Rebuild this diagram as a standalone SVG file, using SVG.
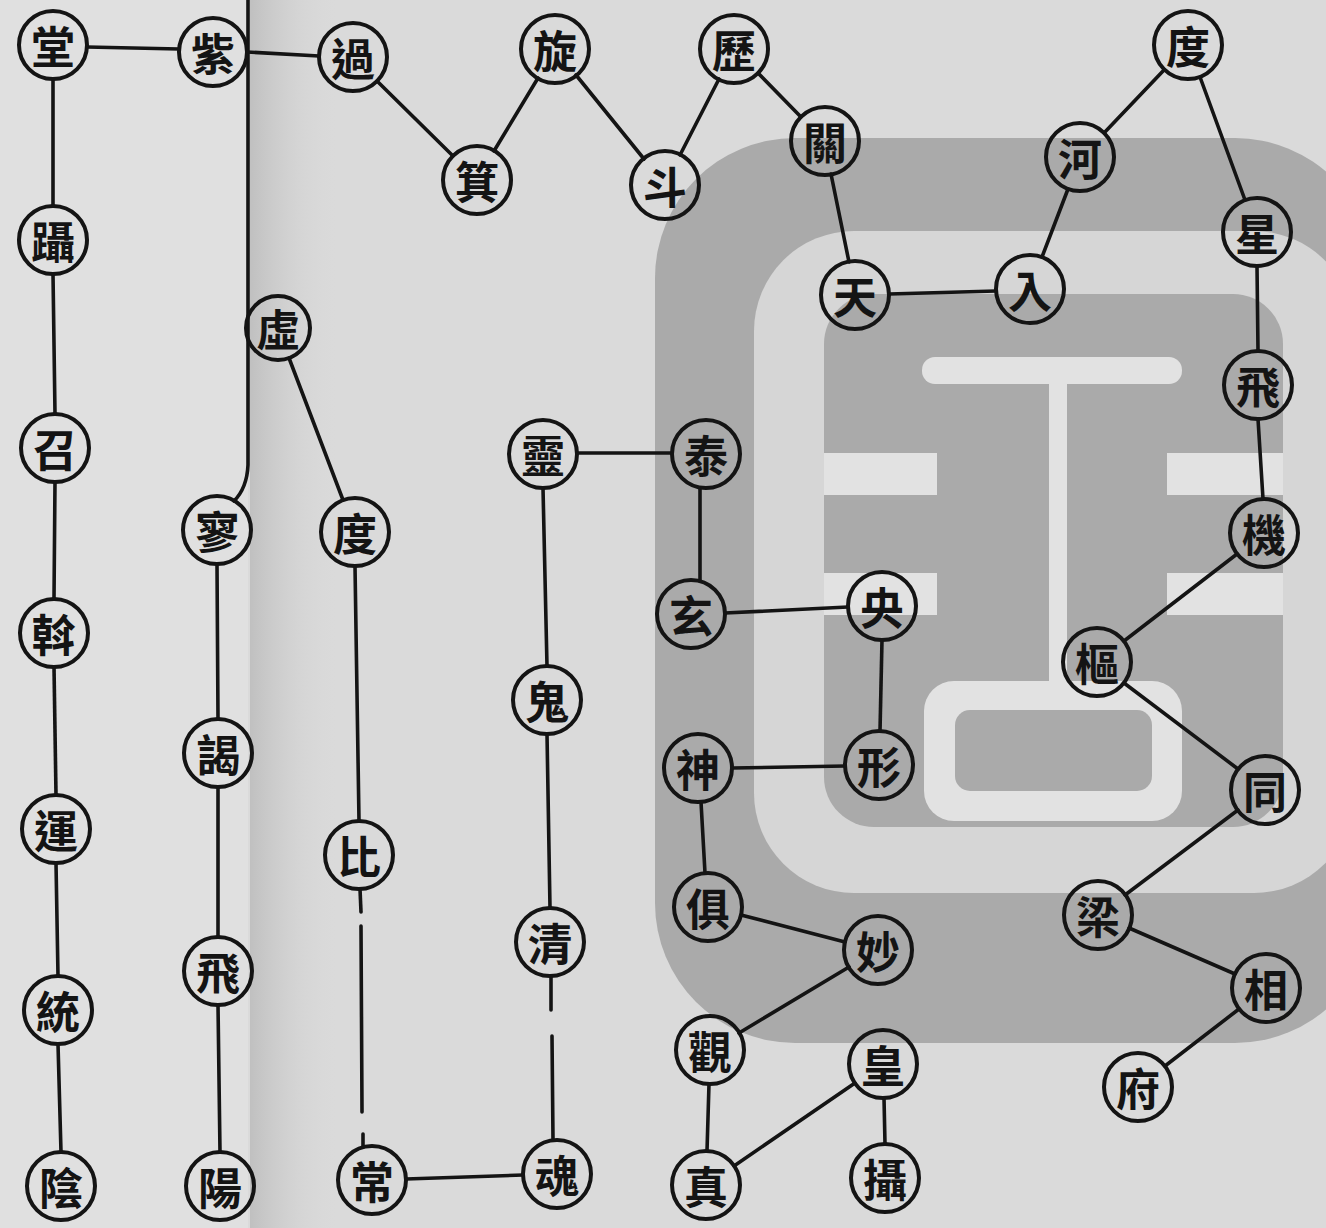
<svg xmlns="http://www.w3.org/2000/svg" width="1326" height="1228" viewBox="0 0 1326 1228">
<defs>
<style>
.n circle{fill:none;stroke:#141414;stroke-width:4}
.n text{font-family:"Noto Sans CJK TC","Noto Sans CJK SC",sans-serif;font-size:44px;font-weight:700;fill:#141414;text-anchor:middle;dominant-baseline:central}
.c line,.c path{stroke:#141414;stroke-width:3.6;fill:none;stroke-linecap:round}
.wm{fill:#aaaaaa}
.wl{fill:#d6d6d6}
.wb{fill:#e2e2e2}
</style>
<linearGradient id="gut" x1="0" y1="0" x2="1" y2="0">
<stop offset="0" stop-color="#bdbdbd" stop-opacity="0.9"/>
<stop offset="1" stop-color="#dadada" stop-opacity="0"/>
</linearGradient>
</defs>
<g id="paper">
<rect x="0" y="0" width="1326" height="1228" fill="#dadada"/>
<rect x="0" y="0" width="248" height="1228" fill="#e0e0e0"/>
<rect x="250" y="0" width="90" height="1228" fill="url(#gut)"/>
</g>
<g id="watermark">
<rect class="wm" x="655" y="138" width="720" height="905" rx="140"/>
<rect class="wl" x="754" y="231" width="600" height="662" rx="100"/>
<rect class="wm" x="824" y="294" width="459" height="533" rx="50"/>
<rect class="wb" x="922" y="357" width="260" height="27" rx="13"/>
<rect class="wb" x="1049" y="370" width="18" height="313"/>
<rect class="wb" x="824" y="453" width="113" height="42"/>
<rect class="wb" x="824" y="573" width="113" height="42"/>
<rect class="wb" x="1167" y="453" width="116" height="42"/>
<rect class="wb" x="1167" y="573" width="116" height="42"/>
<rect class="wb" x="924" y="681" width="258" height="140" rx="30"/>
<rect class="wm" x="955" y="710" width="197" height="81" rx="15"/>
</g>
<g id="connectors" class="c">
<line x1="53" y1="79" x2="53" y2="206"/>
<line x1="53" y1="274" x2="55" y2="414"/>
<line x1="55" y1="482" x2="54" y2="599"/>
<line x1="54" y1="667" x2="56" y2="795"/>
<line x1="56" y1="863" x2="58" y2="976"/>
<line x1="58" y1="1044" x2="61" y2="1152"/>
<line x1="87" y1="47" x2="179" y2="49"/>
<line x1="247" y1="52" x2="319" y2="56"/>
<path d="M248,0 V465 Q247,488 234,501"/>
<line x1="217" y1="564" x2="218" y2="719"/>
<line x1="218" y1="787" x2="218" y2="937"/>
<line x1="218" y1="1005" x2="220" y2="1152"/>
<line x1="289" y1="358" x2="343" y2="500"/>
<line x1="355" y1="566" x2="359" y2="821"/>
<line x1="360" y1="889" x2="361" y2="912"/>
<line x1="361" y1="926" x2="362" y2="1112"/>
<line x1="363" y1="1134" x2="363" y2="1147"/>
<line x1="406" y1="1179" x2="523" y2="1175"/>
<line x1="551" y1="976" x2="551" y2="1010"/>
<line x1="552" y1="1036" x2="553" y2="1140"/>
<line x1="550" y1="908" x2="547" y2="734"/>
<line x1="547" y1="666" x2="543" y2="488"/>
<line x1="577" y1="453" x2="672" y2="453"/>
<line x1="700" y1="488" x2="700" y2="581"/>
<line x1="725" y1="613" x2="848" y2="607"/>
<line x1="882" y1="640" x2="880" y2="731"/>
<line x1="845" y1="766" x2="732" y2="768"/>
<line x1="701" y1="802" x2="705" y2="873"/>
<line x1="741" y1="915" x2="845" y2="942"/>
<line x1="849" y1="967" x2="739" y2="1033"/>
<line x1="709" y1="1084" x2="707" y2="1151"/>
<line x1="734" y1="1166" x2="855" y2="1083"/>
<line x1="884" y1="1098" x2="885" y2="1144"/>
<line x1="377" y1="81" x2="453" y2="156"/>
<line x1="494" y1="151" x2="538" y2="78"/>
<line x1="576" y1="75" x2="644" y2="159"/>
<line x1="680" y1="155" x2="719" y2="79"/>
<line x1="758" y1="73" x2="801" y2="117"/>
<line x1="831" y1="174" x2="849" y2="262"/>
<line x1="889" y1="294" x2="996" y2="291"/>
<line x1="1042" y1="257" x2="1068" y2="189"/>
<line x1="1104" y1="133" x2="1164" y2="70"/>
<line x1="1200" y1="77" x2="1245" y2="200"/>
<line x1="1257" y1="266" x2="1258" y2="351"/>
<line x1="1258" y1="419" x2="1263" y2="499"/>
<line x1="1237" y1="554" x2="1124" y2="641"/>
<line x1="1124" y1="683" x2="1238" y2="769"/>
<line x1="1238" y1="810" x2="1125" y2="895"/>
<line x1="1129" y1="928" x2="1235" y2="974"/>
<line x1="1239" y1="1009" x2="1165" y2="1066"/>
</g>
<g id="n01" class="n"><circle cx="53" cy="45" r="34"/><text x="53" y="45">堂</text></g>
<g id="n02" class="n"><circle cx="53" cy="240" r="34"/><text x="53" y="240">躡</text></g>
<g id="n03" class="n"><circle cx="55" cy="448" r="34"/><text x="55" y="448">召</text></g>
<g id="n04" class="n"><circle cx="54" cy="633" r="34"/><text x="54" y="633">斡</text></g>
<g id="n05" class="n"><circle cx="56" cy="829" r="34"/><text x="56" y="829">運</text></g>
<g id="n06" class="n"><circle cx="58" cy="1010" r="34"/><text x="58" y="1010">統</text></g>
<g id="n07" class="n"><circle cx="61" cy="1186" r="34"/><text x="61" y="1186">陰</text></g>
<g id="n08" class="n"><circle cx="213" cy="52" r="34"/><text x="213" y="52">紫</text></g>
<g id="n09" class="n"><circle cx="217" cy="530" r="34"/><text x="217" y="530">寥</text></g>
<g id="n10" class="n"><circle cx="218" cy="753" r="34"/><text x="218" y="753">謁</text></g>
<g id="n11" class="n"><circle cx="218" cy="971" r="34"/><text x="218" y="971">飛</text></g>
<g id="n12" class="n"><circle cx="220" cy="1186" r="34"/><text x="220" y="1186">陽</text></g>
<g id="n13" class="n"><circle cx="353" cy="57" r="34"/><text x="353" y="57">過</text></g>
<g id="n14" class="n"><circle cx="278" cy="328" r="32"/><text x="278" y="328">虛</text></g>
<g id="n15" class="n"><circle cx="355" cy="532" r="34"/><text x="355" y="532">度</text></g>
<g id="n16" class="n"><circle cx="359" cy="855" r="34"/><text x="359" y="855">比</text></g>
<g id="n17" class="n"><circle cx="372" cy="1180" r="34"/><text x="372" y="1180">常</text></g>
<g id="n18" class="n"><circle cx="477" cy="180" r="34"/><text x="477" y="180">箕</text></g>
<g id="n19" class="n"><circle cx="555" cy="49" r="34"/><text x="555" y="49">旋</text></g>
<g id="n20" class="n"><circle cx="665" cy="185" r="34"/><text x="665" y="185">斗</text></g>
<g id="n21" class="n"><circle cx="734" cy="49" r="34"/><text x="734" y="49">歷</text></g>
<g id="n22" class="n"><circle cx="825" cy="141" r="34"/><text x="825" y="141">關</text></g>
<g id="n23" class="n"><circle cx="855" cy="295" r="34"/><text x="855" y="295">天</text></g>
<g id="n24" class="n"><circle cx="1030" cy="289" r="34"/><text x="1030" y="289">入</text></g>
<g id="n25" class="n"><circle cx="1080" cy="157" r="34"/><text x="1080" y="157">河</text></g>
<g id="n26" class="n"><circle cx="1188" cy="45" r="34"/><text x="1188" y="45">度</text></g>
<g id="n27" class="n"><circle cx="1257" cy="232" r="34"/><text x="1257" y="232">星</text></g>
<g id="n28" class="n"><circle cx="1258" cy="385" r="34"/><text x="1258" y="385">飛</text></g>
<g id="n29" class="n"><circle cx="1264" cy="533" r="34"/><text x="1264" y="533">機</text></g>
<g id="n30" class="n"><circle cx="1097" cy="662" r="34"/><text x="1097" y="662">樞</text></g>
<g id="n31" class="n"><circle cx="1265" cy="790" r="34"/><text x="1265" y="790">同</text></g>
<g id="n32" class="n"><circle cx="1098" cy="915" r="34"/><text x="1098" y="915">梁</text></g>
<g id="n33" class="n"><circle cx="1266" cy="988" r="34"/><text x="1266" y="988">相</text></g>
<g id="n34" class="n"><circle cx="1138" cy="1087" r="34"/><text x="1138" y="1087">府</text></g>
<g id="n35" class="n"><circle cx="543" cy="454" r="34"/><text x="543" y="454">靈</text></g>
<g id="n36" class="n"><circle cx="706" cy="454" r="34"/><text x="706" y="454">泰</text></g>
<g id="n37" class="n"><circle cx="691" cy="614" r="34"/><text x="691" y="614">玄</text></g>
<g id="n38" class="n"><circle cx="882" cy="606" r="34"/><text x="882" y="606">央</text></g>
<g id="n39" class="n"><circle cx="879" cy="765" r="34"/><text x="879" y="765">形</text></g>
<g id="n40" class="n"><circle cx="698" cy="768" r="34"/><text x="698" y="768">神</text></g>
<g id="n41" class="n"><circle cx="547" cy="700" r="34"/><text x="547" y="700">鬼</text></g>
<g id="n42" class="n"><circle cx="550" cy="942" r="34"/><text x="550" y="942">清</text></g>
<g id="n43" class="n"><circle cx="557" cy="1174" r="34"/><text x="557" y="1174">魂</text></g>
<g id="n44" class="n"><circle cx="708" cy="907" r="34"/><text x="708" y="907">俱</text></g>
<g id="n45" class="n"><circle cx="878" cy="950" r="34"/><text x="878" y="950">妙</text></g>
<g id="n46" class="n"><circle cx="710" cy="1050" r="34"/><text x="710" y="1050">觀</text></g>
<g id="n47" class="n"><circle cx="706" cy="1185" r="34"/><text x="706" y="1185">真</text></g>
<g id="n48" class="n"><circle cx="883" cy="1064" r="34"/><text x="883" y="1064">皇</text></g>
<g id="n49" class="n"><circle cx="885" cy="1178" r="34"/><text x="885" y="1178">攝</text></g>
</svg>
